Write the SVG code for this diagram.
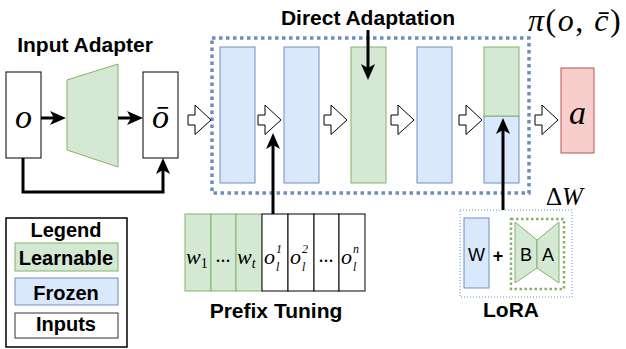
<svg xmlns="http://www.w3.org/2000/svg" width="626" height="349" viewBox="0 0 626 349">
<style>
.g{fill:#d5e8d4;stroke:#82b366;stroke-width:1}
.b{fill:#dae8fc;stroke:#6c8ebf;stroke-width:1}
.r{fill:#f8cecc;stroke:#b85450;stroke-width:1}
.w{fill:#fff;stroke:#000;stroke-width:1}
.h{fill:#fff;stroke:#000;stroke-width:1;stroke-linejoin:miter}
.t{font-family:"Liberation Sans",Arial,sans-serif;font-weight:bold;font-size:21px;fill:#000;text-anchor:middle}
.lg{font-family:"Liberation Sans",Arial,sans-serif;font-weight:bold;font-size:20px;fill:#000;text-anchor:middle}
.m{font-family:"Liberation Serif","Times New Roman",serif;font-style:italic;fill:#000}
.n{font-family:"Liberation Sans",Arial,sans-serif;font-size:18px;fill:#000;text-anchor:middle}
.c{fill:none;stroke:#000;stroke-width:3}
</style>
<defs>
<marker id="ah" markerUnits="userSpaceOnUse" viewBox="0 0 16 14" markerWidth="16" markerHeight="14" refX="4" refY="7" orient="auto">
<path d="M0,0 L16,7 L0,14 L4,7 z" fill="#000"/>
</marker>
<path id="ha" d="M0,-5 h7 v-10 l16,15 l-16,14.5 v-9.5 h-7 z"/>
</defs>

<g id="title-input-adapter"><text class="t" x="85" y="52">Input Adapter</text></g>
<g id="title-direct"><text class="t" x="368" y="25">Direct Adaptation</text></g>
<g id="title-pi"><text class="m" x="528" y="31" font-size="32" letter-spacing="1.5">π<tspan font-style="normal">(</tspan>o<tspan font-style="normal">, </tspan>c&#x0304;<tspan font-style="normal">)</tspan></text></g>

<g id="node-o"><rect class="w" x="6" y="72" width="35" height="86"/><text class="m" x="23.5" y="128" font-size="34" text-anchor="middle">o</text></g>
<g id="node-adapter"><polygon class="g" points="67,80 118,64 118,167 67,150"/></g>
<g id="node-obar"><rect class="w" x="143" y="72" width="35" height="86"/><text class="m" x="160.5" y="128" font-size="34" text-anchor="middle">ō</text></g>

<g id="node-frame"><rect x="212" y="38" width="317" height="155" fill="none" stroke="#6c8ebf" stroke-width="3.5" stroke-dasharray="3.5 3.5"/></g>
<g id="node-layer1"><rect class="b" x="220" y="47" width="35" height="136"/></g>
<g id="node-layer2"><rect class="b" x="284" y="47" width="35" height="136"/></g>
<g id="node-layer3"><rect class="g" x="351" y="47" width="35" height="136"/></g>
<g id="node-layer4"><rect class="b" x="417" y="47" width="35" height="136"/></g>
<g id="node-layer5"><rect class="b" x="484" y="116" width="35" height="67"/><rect class="g" x="484" y="47" width="35" height="69"/></g>
<g id="node-a"><rect class="r" x="561" y="68" width="33" height="85"/><text class="m" x="577.5" y="124" font-size="34" text-anchor="middle">a</text></g>

<g id="node-prefix">
<rect class="g" x="185" y="214" width="26" height="77"/>
<rect class="g" x="211" y="214" width="25" height="77"/>
<rect class="g" x="236" y="214" width="26" height="77"/>
<rect class="w" x="262" y="214" width="26" height="77"/>
<rect class="w" x="288" y="214" width="26" height="77"/>
<rect class="w" x="314" y="214" width="25" height="77"/>
<rect class="w" x="339" y="214" width="26" height="77"/>
<text class="m" x="186" y="264" font-size="22">w<tspan font-style="normal" font-size="14" dy="4">1</tspan></text>
<text class="m" x="223.5" y="262" font-size="20" font-style="normal" text-anchor="middle">...</text>
<text class="m" x="237" y="264" font-size="22">w<tspan font-size="14" dy="4">t</tspan></text>
<text class="m" x="264" y="264" font-size="22">o</text><text class="m" x="276" y="253" font-size="12" font-style="normal">1</text><text class="m" x="276" y="271" font-size="12">l</text>
<text class="m" x="290" y="264" font-size="22">o</text><text class="m" x="302" y="253" font-size="12" font-style="normal">2</text><text class="m" x="302" y="271" font-size="12">l</text>
<text class="m" x="326.5" y="262" font-size="20" font-style="normal" text-anchor="middle">...</text>
<text class="m" x="341" y="264" font-size="22">o</text><text class="m" x="353" y="253" font-size="12">n</text><text class="m" x="353" y="271" font-size="12">l</text>
</g>
<g id="title-prefix"><text class="t" x="276" y="318">Prefix Tuning</text></g>

<g id="node-lora">
<rect x="460" y="210" width="112" height="87" fill="none" stroke="#6c8ebf" stroke-width="1" stroke-dasharray="1 2"/>
<rect class="b" x="464" y="218" width="25" height="70"/>
<text class="n" x="476.5" y="261">W</text>
<text class="n" x="498" y="262" font-weight="bold" font-size="17">+</text>
<rect x="511" y="219" width="53" height="70" fill="none" stroke="#82b366" stroke-width="2.5" stroke-dasharray="2.5 2.5"/>
<polygon class="g" points="515,222 537,240 537,268 515,283"/>
<polygon class="g" points="537,240 559,222 559,283 537,268"/>
<text class="n" x="526" y="261">B</text>
<text class="n" x="548" y="261">A</text>
<text class="m" x="546" y="205" font-size="25"><tspan font-style="normal">Δ</tspan>W</text>
</g>
<g id="title-lora"><text class="t" x="511" y="317">LoRA</text></g>

<g id="legend">
<rect x="6" y="218" width="121" height="129" fill="#fff" stroke="#000" stroke-width="1.5"/>
<text class="lg" x="66" y="237">Legend</text>
<rect class="g" x="15" y="243" width="103" height="28"/>
<text class="lg" x="66" y="265">Learnable</text>
<rect class="b" x="15" y="278" width="103" height="27"/>
<text class="lg" x="66" y="300">Frozen</text>
<rect x="15" y="313" width="103" height="25" fill="#fff" stroke="#333" stroke-width="1"/>
<text class="lg" x="66" y="331">Inputs</text>
</g>

<g id="connectors">
<path class="c" d="M41,118 H54" marker-end="url(#ah)"/>
<path class="c" d="M118,118 H131" marker-end="url(#ah)"/>
<path class="c" d="M23,158 V192 H163 V170" marker-end="url(#ah)"/>
<path class="c" d="M368,30 V68" marker-end="url(#ah)"/>
<path class="c" d="M273,214 V145" marker-end="url(#ah)"/>
<path class="c" d="M503,210 V130" marker-end="url(#ah)"/>
<use href="#ha" class="h" x="188" y="120"/>
<use href="#ha" class="h" x="258" y="120"/>
<use href="#ha" class="h" x="324" y="120"/>
<use href="#ha" class="h" x="391" y="120"/>
<use href="#ha" class="h" x="459" y="120"/>
<use href="#ha" class="h" x="535" y="120"/>
</g>
</svg>
